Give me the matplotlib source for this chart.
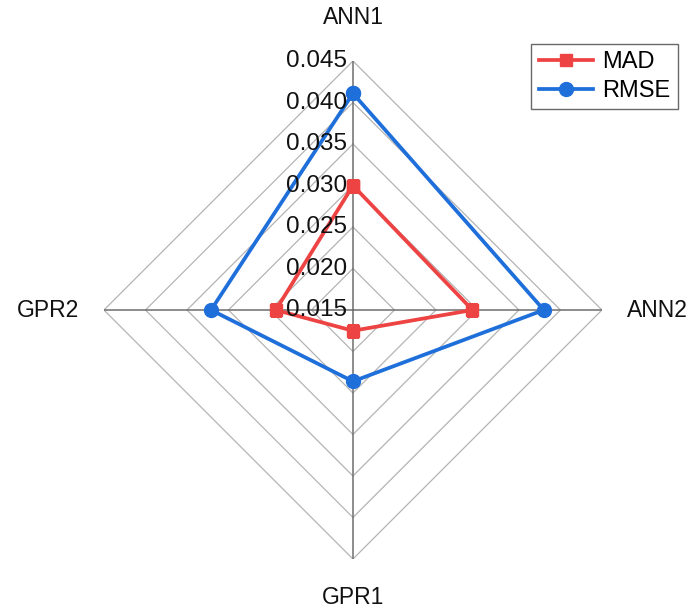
import numpy as np
import matplotlib
matplotlib.use("Agg")
import matplotlib.pyplot as plt

# models on the radar spokes, clockwise from the top
models = ["ANN1", "ANN2", "GPR1", "GPR2"]
mad = [0.0300, 0.0294, 0.0175, 0.0243]
rmse = [0.0411, 0.0380, 0.0236, 0.0321]
levels = [0.015, 0.020, 0.025, 0.030, 0.035, 0.040, 0.045]

red = "#EE4343"
blue = "#1F6FDB"

plt.rcParams['font.family'] = ['Arial', 'Liberation Sans', 'DejaVu Sans']

fig = plt.figure(figsize=(6.95, 6.1), dpi=100)
ax = fig.add_axes([0.1496, 0.0836, 0.7165, 0.8164], projection="polar")
ax.set_theta_zero_location("N")
ax.set_theta_direction(-1)
ax.set_ylim(levels[0], levels[-1])
ax.grid(False)
ax.set_xticks([])
ax.set_yticks([])
ax.spines["polar"].set_visible(False)
ax.patch.set_alpha(0)

theta = np.linspace(0, 2 * np.pi, len(models), endpoint=False)
closed = np.append(theta, theta[0])

# diamond gridlines
for lv in levels[1:]:
    ax.plot(closed, [lv] * len(closed), color="#b4b4b4", lw=0.9, zorder=1)
# spokes
for t in theta:
    ax.plot([t, t], [levels[0], levels[-1]], color="#6e6e6e", lw=1.1, zorder=2)

ax.plot(closed, mad + mad[:1], color=red, lw=2.7, marker="s", ms=9,
        label="MAD", zorder=4)
ax.plot(closed, rmse + rmse[:1], color=blue, lw=2.7, marker="o", ms=10,
        label="RMSE", zorder=3)

# radial value labels along the top spoke
for lv in levels:
    ax.annotate(f"{lv:.3f}", xy=(0, lv), xytext=(-4, 0), textcoords="offset points",
                ha="right", va="center", fontsize=17.5, color="#111111", zorder=5)

# spoke names
offsets = [(0, 31), (18, 0), (0, -28), (-18, 0)]
aligns = [("center", "center"), ("left", "center"), ("center", "center"), ("right", "center")]
for t, name, off, al in zip(theta, models, offsets, aligns):
    ax.annotate(name, xy=(t, levels[-1]), xytext=off, textcoords="offset points",
                ha=al[0], va=al[1], fontsize=16.5, color="#111111", annotation_clip=False)

leg = fig.legend(loc="upper right", bbox_to_anchor=(0.975, 0.928), fontsize=17,
                 frameon=True, fancybox=False, edgecolor="#444444",
                 handlelength=2.3, borderpad=0.3, labelspacing=0.3, handletextpad=0.4,
                 borderaxespad=0.0)
leg.get_frame().set_linewidth(1.0)

fig.savefig("out.png", dpi=100)
